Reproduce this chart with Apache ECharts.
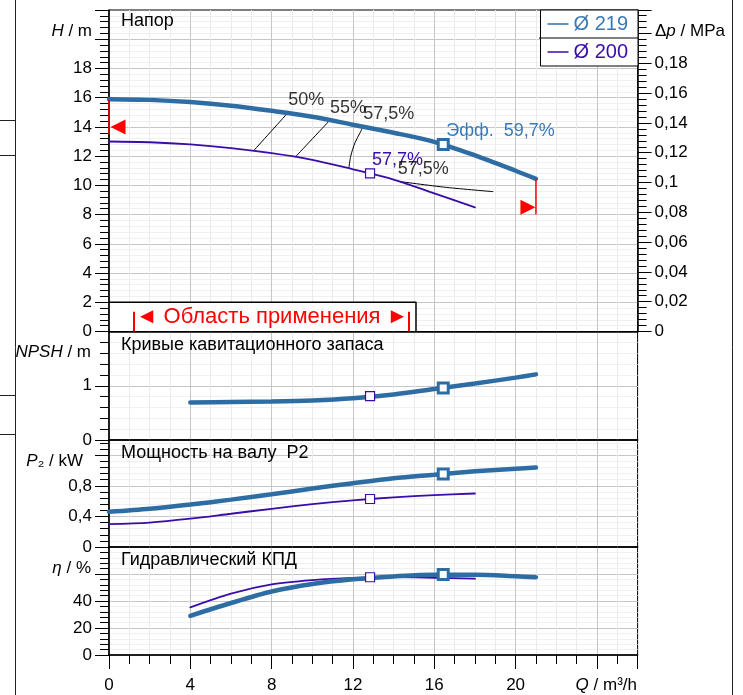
<!DOCTYPE html>
<html><head><meta charset="utf-8">
<script src="https://cdn.jsdelivr.net/npm/echarts@6/dist/echarts.min.js"></script>
<style>html,body{margin:0;padding:0;background:#fff}#c{width:743px;height:695px}</style>
</head><body><div id="c"></div>
<script>
// ---------- data ----------
const qH219 = [0, 2, 4, 6, 8, 10, 12, 14, 16, 18, 20, 21];
const h219  = [15.9, 15.85, 15.7, 15.45, 15.1, 14.7, 14.15, 13.6, 12.98, 12.05, 11.0, 10.45];
const qH200 = [0, 2, 4, 6, 8, 10, 12, 14, 16, 18];
const h200  = [13.0, 12.95, 12.8, 12.55, 12.2, 11.75, 11.1, 10.4, 9.45, 8.5];

const qN219 = [4, 6, 8, 10, 12, 14, 16, 18, 20, 21];
const npsh219 = [0.69, 0.70, 0.71, 0.73, 0.77, 0.84, 0.94, 1.04, 1.15, 1.21];

const qP219 = [0, 2, 4, 6, 8, 10, 12, 14, 16, 18, 20, 21];
const p219  = [0.46, 0.50, 0.555, 0.62, 0.69, 0.765, 0.835, 0.90, 0.945, 0.99, 1.025, 1.04];
const qP200 = [0, 2, 4, 6, 8, 10, 12, 14, 16, 18];
const p200  = [0.30, 0.32, 0.37, 0.435, 0.50, 0.56, 0.61, 0.65, 0.68, 0.70];

const qE219 = [4, 6, 8, 10, 12, 14, 16, 18, 20, 21];
const e219  = [29, 38.5, 47, 52.6, 56.1, 58.2, 59.5, 59.4, 58.3, 57.6];
const qE200 = [4, 6, 8, 10, 12, 14, 16, 18];
const e200  = [35.3, 45.5, 52.3, 55.5, 57.2, 57.7, 57.2, 56.5];

// best-efficiency points  [Q, H, NPSH, P2, eta]
const bep219 = [16.44, 12.8, 0.96, 0.955, 59.7];
const bep200 = [12.84, 10.82, 0.81, 0.628, 57.6];
const bepLabels = ['Эфф.  59,7%', '57,7%'];

// iso-efficiency lines
const isoNames = ['50%', '55%', '57,5%', '57,5%'];
const isoLines = [
  [[8.82, 15.0], [7.1, 12.35]],
  [[10.87, 14.47], [9.15, 11.92]],
  [[12.51, 14.06], [12.35, 13.6], [12.1, 12.92], [11.89, 12.0], [11.8, 11.2]],
  [[14.2, 10.28], [16.6, 9.86], [18.9, 9.57]]
];

// operating limits
const limitQ = [0, 21];
const limitLineH = [[15.9, 13.5], [10.45, 8.0]];
const limitArrowH = [14, 8.5];

// application range
const appBoxQ = 15.1, appBoxH = 2;
const appBarsQ = [1.24, 14.72], appBarH = 1.36;
const appText = '◄ Область применения ►';

// axis ranges
const xMax = 26;
const hMax = 22, dpMax = 22 * 0.00981, npshMax = 2, pMax = 1.4, etaMax = 80;

// ---------- styling ----------
const FONT = '"Liberation Sans", Arial, sans-serif';
const C219 = '#2e6da4', C200 = '#3a0ca8', T219 = '#3a79b6';
const zip = (xs, ys) => xs.map((x, i) => [x, ys[i]]);
const comma = v => String(+v.toFixed(3)).replace('.', ',');

const grids = [
  {left: 109, width: 528.6, top: 10, height: 321.5},
  {left: 109, width: 528.6, top: 331.5, height: 108.5},
  {left: 109, width: 528.6, top: 440, height: 107},
  {left: 109, width: 528.6, top: 547, height: 108}
].map(g => Object.assign(g, {show: true, borderColor: '#000', borderWidth: 1,
  backgroundColor: 'transparent', containLabel: false, outerBoundsMode: 'none'}));

const xAxes = [];
for (let g = 0; g < 4; g++) {
  const last = g === 3;
  xAxes.push({
    type: 'value', gridIndex: g, position: 'bottom', min: 0, max: xMax, interval: 1,
    axisLine: {show: false, onZero: false}, axisTick: {show: last, length: 9, lineStyle: {color: '#000'}},
    axisLabel: {show: false},
    splitLine: {show: true, showMinLine: false, showMaxLine: false, lineStyle: {color: '#ebebeb'}}
  });
  xAxes.push({
    type: 'value', gridIndex: g, position: 'bottom', min: 0, max: xMax, interval: 4,
    axisLine: {show: true, onZero: false, lineStyle: {color: '#000', width: 1.6}},
    axisTick: {show: last, length: 14, lineStyle: {color: '#000'}},
    axisLabel: {show: last, margin: 22, fontSize: 17, color: '#000', fontFamily: FONT,
      formatter: v => v <= 20 ? String(v) : ''},
    splitLine: {show: true, showMinLine: false, showMaxLine: false, lineStyle: {color: '#c6c6c6'}}
  });
}

function yPair(g, max, minorI, majorI, fmt, pos, grid) {
  return [{
    type: 'value', gridIndex: g, min: 0, max, interval: minorI, position: pos,
    axisLine: {show: false, onZero: false}, axisTick: {show: true, length: 9, lineStyle: {color: '#000'}},
    axisLabel: {show: false},
    splitLine: {show: grid, showMinLine: false, showMaxLine: false, lineStyle: {color: '#f0f0f0'}}
  }, {
    type: 'value', gridIndex: g, min: 0, max, interval: majorI, position: pos,
    axisLine: {show: true, onZero: false, lineStyle: {color: '#000', width: 1.5}},
    axisTick: {show: true, length: 14, lineStyle: {color: '#000'}},
    axisLabel: {show: true, margin: 17, fontSize: 17, color: '#000', fontFamily: FONT, formatter: fmt},
    splitLine: {show: grid, showMinLine: false, showMaxLine: false, lineStyle: {color: '#c6c6c6'}}
  }];
}
const yAxes = [].concat(
  yPair(0, hMax, 0.4, 2, v => v <= 18 ? String(v) : '', 'left', true),         // 0,1
  yPair(0, dpMax, 0.004, 0.02, v => v <= 0.181 ? comma(v) : '', 'right', false), // 2,3
  yPair(1, npshMax, 0.2, 1, v => v < 1.5 ? String(v) : '', 'left', true),       // 4,5
  yPair(2, pMax, 0.08, 0.4, v => v <= 0.81 ? comma(v) : '', 'left', true),      // 6,7
  yPair(3, etaMax, 4, 20, v => v <= 40 ? String(v) : '', 'left', true)          // 8,9
);

const line = (name, xs, ys, g, y, color, width, z) => ({
  type: 'line', name, data: zip(xs, ys), xAxisIndex: 2 * g + 1, yAxisIndex: y,
  smooth: 0.3, symbol: 'none', silent: true,
  lineStyle: {color, width, cap: 'round'}, itemStyle: {color}, z: z || 3
});
const mark = (name, x, y, g, yi, color, size, bw, label) => ({
  type: 'scatter', name, xAxisIndex: 2 * g + 1, yAxisIndex: yi, symbol: 'rect', symbolSize: size,
  silent: true, z: 6,
  itemStyle: {color: '#fff', borderColor: color, borderWidth: bw, opacity: 1},
  data: [{value: [x, y], label: label || {show: false}}]
});

const series = [
  line('Ø 219', qH219, h219, 0, 1, C219, 4.5, 4),
  line('Ø 200', qH200, h200, 0, 1, C200, 1.8, 3),
  line('Ø 219', qN219, npsh219, 1, 5, C219, 4.5, 4),
  line('Ø 219', qP219, p219, 2, 7, C219, 4.5, 4),
  line('Ø 200', qP200, p200, 2, 7, C200, 1.8, 3),
  line('Ø 219', qE219, e219, 3, 9, C219, 4.5, 4),
  line('Ø 200', qE200, e200, 3, 9, C200, 1.8, 3)
];

// iso-efficiency lines
isoLines.forEach((pts, i) => series.push({
  type: 'line', name: 'iso' + i, data: pts, xAxisIndex: 1, yAxisIndex: 1, smooth: 0.3,
  symbol: 'none', silent: true, lineStyle: {color: '#000', width: 1}, z: 2
}));
series.push({
  type: 'scatter', name: 'isoLabels', xAxisIndex: 1, yAxisIndex: 1, symbol: 'circle', symbolSize: 1,
  silent: true, itemStyle: {color: 'transparent'}, z: 7,
  data: isoLines.map((pts, i) => ({value: pts[0], name: isoNames[i]})),
  label: {show: true, position: 'top', align: 'left', distance: 3, formatter: p => p.name,
    fontSize: 18, fontFamily: FONT, color: '#000'}
});

// markers
const lbl = (text, color, off) => ({show: true, formatter: text, position: 'top', align: 'left',
  distance: 0, offset: off, fontSize: 18, fontFamily: FONT, color});
series.push(mark('bep219', bep219[0], bep219[1], 0, 1, C219, 10, 3, lbl(bepLabels[0], T219, [3, 2])));
series.push(mark('bep200', bep200[0], bep200[1], 0, 1, C200, 9, 1.2, lbl(bepLabels[1], C200, [2, 1])));
series.push(mark('bep219', bep219[0], bep219[2], 1, 5, C219, 10, 3));
series.push(mark('bep200', bep200[0], bep200[2], 1, 5, C200, 9, 1.2));
series.push(mark('bep219', bep219[0], bep219[3], 2, 7, C219, 10, 3));
series.push(mark('bep200', bep200[0], bep200[3], 2, 7, C200, 9, 1.2));
series.push(mark('bep219', bep219[0], bep219[4], 3, 9, C219, 10, 3));
series.push(mark('bep200', bep200[0], bep200[4], 3, 9, C200, 9, 1.2));

// operating limits
limitQ.forEach((q, i) => {
  series.push({
    type: 'line', name: 'limit' + i, data: limitLineH[i].map(h => [q, h]), xAxisIndex: 1, yAxisIndex: 1,
    symbol: 'none', silent: true, lineStyle: {color: '#ff0000', width: 1.5}, z: 5
  });
  series.push({
    type: 'scatter', name: 'limitArrow' + i, xAxisIndex: 1, yAxisIndex: 1, silent: true, z: 5,
    symbol: 'triangle', symbolSize: [15, 15], symbolRotate: i === 0 ? 90 : -90,
    symbolOffset: [i === 0 ? 9 : -8, 0], itemStyle: {color: '#ff0000', opacity: 1},
    data: [[q, limitArrowH[i]]]
  });
});

// application range box
series.push({
  type: 'line', name: 'appBox', xAxisIndex: 1, yAxisIndex: 1, symbol: 'none', silent: true, z: 5,
  data: [[0, appBoxH], [appBoxQ, appBoxH], [appBoxQ, 0]],
  lineStyle: {color: '#000', width: 1.5},
  markArea: {silent: true, itemStyle: {color: '#ffffff', opacity: 1, borderWidth: 0},
    label: {show: true, position: 'inside', offset: [9, 0], color: '#ff0000', fontSize: 22, fontFamily: FONT,
      formatter: appText},
    data: [[{coord: [0.05, 0.06]}, {coord: [appBoxQ, appBoxH]}]]},
  markLine: {silent: true, symbol: ['none', 'none'], label: {show: false},
    lineStyle: {color: '#ff0000', width: 2, type: 'solid'},
    data: appBarsQ.map(q => [{coord: [q, 0]}, {coord: [q, appBarH]}])}
});

// ---------- text & decoration ----------
const rich = {i: {fontStyle: 'italic', fontSize: 17, fontFamily: FONT}};
const txt = (text, x, y, align, size, color) => ({
  type: 'text', z: 20, silent: true,
  style: {text, x, y, align, textAlign: align, verticalAlign: 'middle', textVerticalAlign: 'middle',
    fontSize: size || 17, fontFamily: FONT, fill: color || '#000', rich}
});
const ln = (x1, y1, x2, y2) => ({type: 'line', z: 20, silent: true,
  shape: {x1, y1, x2, y2}, style: {stroke: '#222', lineWidth: 1}});

const graphic = [
  txt('{i|H} / m', 92, 31, 'right'),
  txt('Δ{i|p} / MPa', 655, 31, 'left'),
  txt('{i|NPSH} / m', 91, 352, 'right'),
  txt('{i|P}₂ / kW', 83, 461, 'right'),
  txt('{i|η} / %', 91, 568, 'right'),
  txt('{i|Q} / m³/h', 637, 685, 'right'),
  txt('Напор', 121, 21, 'left', 18),
  txt('Кривые кавитационного запаса', 121, 345, 'left', 18),
  txt('Мощность на валу  P2', 121, 453, 'left', 18),
  txt('Гидравлический КПД', 121, 560, 'left', 18),
  ln(15.5, 0, 15.5, 695), ln(732.5, 0, 732.5, 695),
  ln(0, 120.5, 16, 120.5), ln(0, 155.5, 16, 155.5), ln(0, 395.5, 16, 395.5), ln(0, 434.5, 16, 434.5),
  {type: 'line', z: 20, silent: true, shape: {x1: 539, y1: 38, x2: 638, y2: 38}, style: {stroke: '#000', lineWidth: 1}}
];

const chart = echarts.init(document.getElementById('c'), null, {renderer: 'canvas'});
chart.setOption({
  animation: false,
  backgroundColor: '#fff',
  textStyle: {fontFamily: FONT},
  grid: grids,
  xAxis: xAxes,
  yAxis: yAxes,
  legend: {
    orient: 'vertical', right: 105, top: 10, z: 15,
    data: [{name: 'Ø 219', textStyle: {color: T219}}, {name: 'Ø 200', textStyle: {color: C200}}],
    icon: 'rect', itemWidth: 21, itemHeight: 1.5, itemGap: 8,
    padding: [4, 10, 4, 7], borderColor: '#000', borderWidth: 1, backgroundColor: '#fff',
    textStyle: {fontSize: 20, fontFamily: FONT}, selectedMode: false
  },
  graphic,
  series
});
</script></body></html>
